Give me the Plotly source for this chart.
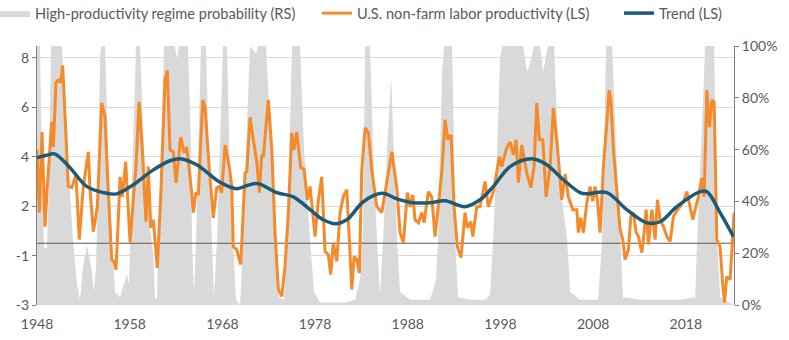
import plotly.graph_objects as go

# ---- Data ----
# High-productivity regime probability (%), right scale
prob_year = [1948.00, 1948.32, 1948.54, 1948.76, 1949.08, 1949.29, 1949.51, 1950.70, 1951.13, 1951.88,
             1952.32, 1952.64, 1952.96, 1953.40, 1953.83, 1954.15, 1954.37, 1954.47, 1954.80, 1954.91,
             1955.34, 1955.66, 1956.09, 1956.42, 1956.96, 1957.39, 1957.71, 1957.93, 1958.04, 1958.36,
             1958.68, 1959.11, 1959.55, 1960.19, 1960.52, 1960.73, 1960.95, 1961.06, 1961.38, 1961.70,
             1962.89, 1963.11, 1963.32, 1964.29, 1964.62, 1964.73, 1964.94, 1965.16, 1965.48, 1965.70,
             1966.24, 1966.56, 1966.88, 1967.10, 1967.42, 1967.86, 1968.07, 1968.50, 1968.83, 1969.15,
             1969.47, 1969.91, 1970.23, 1970.66, 1970.99, 1971.63, 1971.85, 1972.71, 1973.14, 1973.68,
             1974.11, 1974.65, 1974.98, 1975.30, 1975.52, 1976.38, 1976.81, 1977.46, 1977.89, 1978.54,
             1979.62, 1981.24, 1982.32, 1982.86, 1983.18, 1983.40, 1983.93, 1984.26, 1984.69, 1985.01,
             1985.34, 1985.77, 1986.20, 1986.52, 1986.85, 1987.17, 1988.25, 1990.41, 1991.06, 1991.27,
             1991.70, 1991.92, 1992.78, 1993.00, 1993.11, 1993.43, 1994.73, 1996.34, 1996.88, 1997.21,
             1997.64, 1997.96, 1998.18, 2000.44, 2000.87, 2001.30, 2001.63, 2002.28, 2002.60, 2002.93,
             2003.14, 2003.79, 2004.12, 2004.66, 2005.20, 2005.52, 2006.60, 2008.54, 2008.97, 2009.40,
             2010.05, 2010.48, 2010.91, 2011.23, 2013.07, 2015.23, 2017.39, 2019.01, 2019.22, 2019.76,
             2020.08, 2021.06, 2021.27, 2021.38, 2021.71, 2023.21]
prob_pct = [100, 100, 50, 22, 22, 50, 100, 100, 70, 25,
            8, 2, 15, 23, 15, 5, 15, 30, 95, 100,
            100, 60, 25, 5, 3, 8, 12, 8, 25, 60,
            100, 100, 60, 30, 20, 3, 2, 20, 60, 100,
            100, 95, 100, 100, 60, 25, 4, 25, 70, 100,
            100, 50, 25, 3, 25, 80, 100, 100, 50, 25,
            2, 0, 25, 70, 100, 97, 100, 100, 70, 25,
            3, 2, 25, 70, 100, 100, 60, 25, 5, 1,
            1, 1, 2, 10, 30, 100, 100, 60, 25, 4,
            25, 60, 88, 60, 25, 5, 2, 2, 10, 25,
            90, 100, 100, 60, 25, 3, 2, 2, 4, 25,
            60, 95, 100, 100, 90, 95, 100, 100, 90, 96,
            100, 100, 70, 40, 25, 5, 2, 2, 25, 100,
            100, 60, 25, 3, 2, 2, 2, 3, 25, 70,
            100, 100, 60, 25, 3, 0]

# U.S. non-farm labor productivity (left scale)
prod_year = [1948.00, 1948.25, 1948.54, 1948.86, 1949.11, 1949.40, 1949.59, 1949.76, 1950.05, 1950.30,
             1950.56, 1950.77, 1951.38, 1951.74, 1952.21, 1952.56, 1953.00, 1953.54, 1953.72, 1954.08,
             1954.51, 1954.98, 1955.34, 1955.59, 1956.06, 1956.31, 1956.52, 1956.77, 1956.96, 1957.20,
             1957.57, 1957.85, 1958.04, 1958.39, 1958.68, 1959.01, 1959.36, 1959.76, 1960.01, 1960.27,
             1960.55, 1960.98, 1961.35, 1961.81, 1962.06, 1962.35, 1962.71, 1963.00, 1963.51, 1963.86,
             1964.15, 1964.69, 1964.87, 1965.13, 1965.41, 1965.88, 1966.13, 1966.59, 1967.02, 1967.39,
             1967.67, 1967.93, 1968.29, 1968.75, 1969.01, 1969.18, 1969.55, 1969.98, 1970.45, 1970.63,
             1970.99, 1971.34, 1971.71, 1971.99, 1972.25, 1972.42, 1972.96, 1973.33, 1973.68, 1974.04,
             1974.41, 1974.76, 1975.12, 1975.49, 1975.73, 1976.02, 1976.46, 1976.81, 1977.17, 1977.46,
             1978.00, 1978.36, 1978.72, 1979.08, 1979.43, 1979.69, 1979.97, 1980.34, 1980.70, 1981.05,
             1981.42, 1981.70, 1981.96, 1982.21, 1982.50, 1982.78, 1983.04, 1983.40, 1983.75, 1984.12,
             1984.66, 1985.20, 1985.55, 1986.28, 1986.82, 1987.17, 1987.53, 1987.96, 1988.25, 1988.54,
             1988.79, 1989.15, 1989.51, 1989.76, 1990.22, 1990.59, 1990.95, 1991.41, 1991.67, 1992.03,
             1992.32, 1992.67, 1993.00, 1993.35, 1993.75, 1994.18, 1994.43, 1994.80, 1995.02, 1995.45,
             1995.80, 1996.34, 1996.70, 1997.24, 1997.89, 1998.15, 1998.61, 1999.04, 1999.40, 1999.69,
             1999.94, 2000.30, 2000.84, 2001.28, 2001.63, 2001.92, 2002.20, 2002.57, 2002.93, 2003.36,
             2003.71, 2004.15, 2004.62, 2004.98, 2005.33, 2005.81, 2006.24, 2006.41, 2006.67, 2006.95,
             2007.32, 2007.67, 2007.96, 2008.21, 2008.46, 2008.75, 2009.11, 2009.48, 2009.72, 2009.91,
             2010.19, 2010.55, 2010.91, 2011.20, 2011.45, 2011.81, 2012.07, 2012.35, 2012.64, 2012.89,
             2013.26, 2013.50, 2013.72, 2013.97, 2014.34, 2014.69, 2014.94, 2015.23, 2015.59, 2015.96,
             2016.31, 2016.67, 2017.10, 2017.39, 2017.82, 2018.11, 2018.47, 2018.76, 2019.01, 2019.36,
             2019.73, 2019.98, 2020.27, 2020.55, 2020.81, 2021.06, 2021.35, 2021.70, 2022.00, 2022.17,
             2022.42, 2022.78, 2022.96, 2023.21]
prod_val = [4.28, 1.74, 5.0, 1.17, 2.79, 4.4, 5.4, 4.4, 7.0, 7.1,
            7.0, 7.7, 2.8, 2.75, 3.27, 0.65, 2.8, 4.2, 2.67, 0.97,
            1.98, 6.18, 5.6, 3.35, -0.16, -0.24, -0.57, 1.45, 3.19, 2.38,
            3.8, 1.86, 0.53, 2.26, 3.6, 6.22, 4.28, 1.37, 3.6, 1.13,
            1.45, -0.5, 2.38, 7.1, 7.5, 4.28, 4.2, 2.95, 4.8, 4.16,
            4.4, 2.55, 1.74, 2.55, 2.46, 6.3, 6.0, 3.5, 1.53, 2.75,
            2.8, 2.55, 4.48, 3.6, 2.8, 0.36, 0.24, -0.36, 3.35, 3.4,
            5.6, 4.7, 3.8, 2.55, 4.08, 4.0, 6.3, 4.28, 0.93, -1.37,
            -1.65, -0.44, 1.74, 4.97, 4.28, 5.0, 3.56, 3.5, 2.26, 2.8,
            0.77, 2.26, 3.19, 0.16, 0.04, -0.77, 0.53, -0.24, 1.74, 2.38,
            2.67, 0.65, -1.37, -0.04, -0.16, -0.7, 3.47, 5.17, 4.97, 3.47,
            1.98, 1.74, 2.55, 4.2, 2.75, 0.93, 0.53, 2.55, 1.98, 2.46,
            1.45, 1.33, 1.74, 1.33, 2.59, 2.38, 0.77, 2.26, 3.35, 5.5,
            4.69, 4.89, 1.98, 0.36, -0.08, 1.74, 1.13, 1.37, 0.77, 1.98,
            1.98, 3.0, 1.98, 2.59, 4.0, 3.6, 4.28, 4.6, 4.08, 4.69,
            2.95, 4.48, 3.35, 2.75, 3.6, 6.18, 4.69, 4.69, 2.38, 3.6,
            5.98, 4.4, 2.26, 3.3, 2.38, 1.86, 1.86, 0.93, 1.53, 0.93,
            2.14, 2.8, 2.2, 2.8, 2.26, 0.93, 3.6, 5.37, 6.7, 6.3,
            4.28, 2.67, 1.05, 0.65, -0.16, 0.24, 1.58, 1.74, 0.93, 0.77,
            0.12, 0.93, 1.86, 0.45, 1.86, 0.65, 2.26, 1.45, 1.17, 0.77,
            0.57, 1.58, 1.86, 1.98, 2.26, 2.59, 1.98, 1.45, 1.86, 2.38,
            3.15, 2.38, 6.7, 5.2, 6.3, 6.2, 0.65, 0.36, -1.25, -1.9,
            -0.85, -0.97, 0.12, 1.74]

# Trend (left scale)
trend_year = [1948.00, 1949.00, 1949.90, 1951.56, 1953.36, 1955.15, 1956.60, 1958.39, 1960.55, 1962.35,
              1963.43, 1965.23, 1967.75, 1969.55, 1970.77, 1971.88, 1973.87, 1975.66, 1977.46, 1978.90,
              1980.16, 1981.42, 1983.21, 1985.20, 1986.82, 1988.61, 1990.41, 1992.03, 1994.18, 1995.80,
              1997.24, 1999.04, 2001.38, 2003.00, 2004.79, 2006.59, 2007.32, 2009.48, 2011.63, 2013.79,
              2015.23, 2017.03, 2019.55, 2020.27, 2021.70, 2023.14]
trend_val = [3.96, 4.06, 4.12, 3.56, 2.8, 2.55, 2.5, 2.87, 3.47, 3.84,
             3.92, 3.68, 2.97, 2.71, 2.85, 2.91, 2.55, 2.38, 1.86, 1.45,
             1.29, 1.45, 2.18, 2.52, 2.3, 2.14, 2.14, 2.22, 1.98, 2.26,
             2.8, 3.6, 3.92, 3.68, 3.07, 2.55, 2.5, 2.55, 1.86, 1.33,
             1.37, 1.98, 2.59, 2.59, 1.74, 0.77]

ref_line_value = 0.5
x_range = [1948, 2023.2]

x_tickvals = [1948, 1958, 1968, 1978, 1988, 1998, 2008, 2018]
x_ticktext = ["1948", "1958", "1968", "1978", "1988", "1998", "2008", "2018"]
left_tickvals = [-2, 0, 2, 4, 6, 8]
left_ticktext = ["-3", "-1", "2", "4", "6", "8"]
right_tickvals = [0, 20, 40, 60, 80, 100]
right_ticktext = ["0%", "20%", "40%", "60%", "80%", "100%"]

# ---- Figure ----
TEXT = "#595959"
AXIS = "#7f7f7f"
FONT = "Lato"

fig = go.Figure()
fig.add_trace(go.Scatter(
    x=prob_year, y=prob_pct, yaxis="y", mode="lines", fill="tozeroy",
    fillcolor="#d9d9d9", line=dict(width=0, color="#d9d9d9"),
    name="High-productivity regime probability (RS)", hoverinfo="skip", legend="legend"))
fig.add_trace(go.Scatter(
    x=x_range, y=[ref_line_value, ref_line_value], yaxis="y2", mode="lines",
    line=dict(color="#595959", width=1), showlegend=False, hoverinfo="skip"))
fig.add_trace(go.Scatter(
    x=prod_year, y=prod_val, yaxis="y2", mode="lines",
    line=dict(color="#F58A2B", width=3),
    name="U.S. non-farm labor productivity (LS)", legend="legend2"))
fig.add_trace(go.Scatter(
    x=trend_year, y=trend_val, yaxis="y2", mode="lines",
    line=dict(color="#1C5B78", width=3.5, shape="spline", smoothing=1.0),
    name="Trend (LS)", legend="legend3"))

def leg(xpos):
    return dict(orientation="h", x=xpos, xanchor="left", y=1.127, yanchor="middle",
                font=dict(family=FONT, size=14.6, color=TEXT),
                bgcolor="rgba(0,0,0,0)")

fig.update_layout(
    width=789, height=340,
    margin=dict(l=37, r=55, t=46, b=35, autoexpand=False),
    paper_bgcolor="white", plot_bgcolor="white",
    font=dict(family=FONT, size=14, color=TEXT),
    showlegend=True,
    legend=leg(-0.0603),
    legend2=leg(0.4017),
    legend3=leg(0.8350),
    xaxis=dict(range=x_range, tickvals=x_tickvals, ticktext=x_ticktext,
               showgrid=False, zeroline=False, showline=False,
               ticks="outside", ticklen=6, tickcolor="rgba(0,0,0,0)",
               tickfont=dict(family=FONT, size=14, color=TEXT)),
    yaxis=dict(side="right", range=[0, 100], tickvals=right_tickvals, ticktext=right_ticktext,
               showgrid=False, zeroline=False, showline=True, linecolor=AXIS, linewidth=1,
               ticks="outside", ticklen=4, tickcolor=AXIS,
               tickfont=dict(family=FONT, size=14, color=TEXT)),
    yaxis2=dict(side="left", overlaying="y", range=[-2.0, 8.485],
                tickvals=left_tickvals, ticktext=left_ticktext,
                showgrid=True, gridcolor="#d9d9d9", gridwidth=1,
                zeroline=False, showline=True, linecolor=AXIS, linewidth=1,
                ticks="outside", ticklen=4, tickcolor=AXIS,
                tickfont=dict(family=FONT, size=14, color=TEXT)),
)

fig.write_html("out.html")
